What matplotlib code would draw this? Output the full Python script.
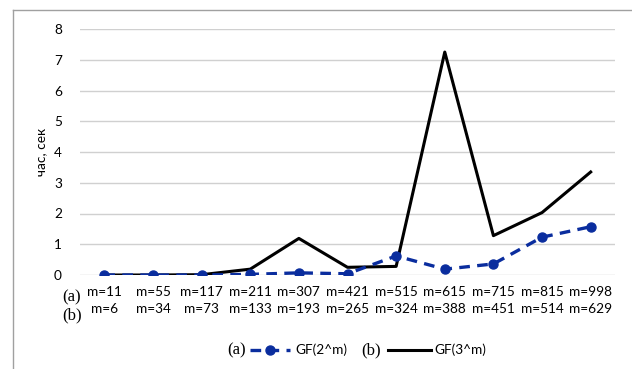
import matplotlib.pyplot as plt
from matplotlib.lines import Line2D

# data
m_a = [11, 55, 117, 211, 307, 421, 515, 615, 715, 815, 998]
m_b = [6, 34, 73, 133, 193, 265, 324, 388, 451, 514, 629]
gf2 = [0.0, 0.0, 0.0, 0.02, 0.07, 0.04, 0.62, 0.19, 0.36, 1.23, 1.57]
gf3 = [0.0, 0.0, 0.01, 0.19, 1.19, 0.25, 0.28, 7.25, 1.28, 2.03, 3.35]

labels = [f'm={a}\nm={b}' for a, b in zip(m_a, m_b)]
x = list(range(len(labels)))

blue = '#0a2d9e'
fs = 9.8
plt.rcParams['font.family'] = ['Lato', 'DejaVu Sans']

fig = plt.figure(figsize=(6.32, 3.69), dpi=100)
ax = fig.add_axes([80/632, 1-275/369, 535/632, 246/369])

ax.plot(x, gf2, color=blue, lw=2.4, ls=(0, (3.2, 2.2)), marker='o', ms=6.5,
        zorder=3)
ax.plot(x, gf3, color='black', lw=2.2, zorder=2)

ax.set_xlim(-0.5, len(x) - 0.5)
ax.set_ylim(0, 8)
ax.set_yticks(range(0, 9))
ax.set_xticks(x)
ax.set_xticklabels(labels, fontsize=fs, linespacing=1.45)
ax.tick_params(axis='both', length=0, labelsize=fs)
ax.tick_params(axis='x', pad=8)
ax.tick_params(axis='y', pad=13)
ax.grid(axis='y', color='#d0d0d0', lw=1)
ax.set_axisbelow(True)
for s in ax.spines.values():
    s.set_visible(False)
ax.set_ylabel('час, сек', fontsize=fs, labelpad=5)

# (a)/(b) row markers in front of the tick labels
fig.text(72/632, 1-297/369, '(a)', family='Liberation Serif', fontsize=12,
         ha='center', va='center')
fig.text(72/632, 1-315/369, '(b)', family='Liberation Serif', fontsize=12,
         ha='center', va='center')

# legend, drawn by hand
ly = 1 - 350/369
fig.text(237/632, ly, '(a)', family='Liberation Serif', fontsize=12,
         ha='center', va='center')
fig.lines.append(Line2D([250/632, 290/632], [ly, ly], transform=fig.transFigure,
                        color=blue, lw=2.4, ls=(0, (3.2, 2.2)), zorder=3))
fig.lines.append(Line2D([270/632], [ly], transform=fig.transFigure,
                        color=blue, marker='o', ms=6.5, lw=0))
fig.text(295/632, ly, 'GF(2^m)', fontsize=fs, ha='left', va='center')
fig.text(371/632, ly, '(b)', family='Liberation Serif', fontsize=12,
         ha='center', va='center')
fig.lines.append(Line2D([388/632, 431/632], [ly, ly], transform=fig.transFigure,
                        color='black', lw=2.2))
fig.text(434/632, ly, 'GF(3^m)', fontsize=fs, ha='left', va='center')

# chart frame (left and top edges)
fig.lines.append(Line2D([13/632, 13/632], [0, 1-10/369], transform=fig.transFigure,
                        color='#a0a0a0', lw=1))
fig.lines.append(Line2D([13/632, 1], [1-10/369, 1-10/369], transform=fig.transFigure,
                        color='#a0a0a0', lw=1))

fig.savefig('out.png', dpi=100)
